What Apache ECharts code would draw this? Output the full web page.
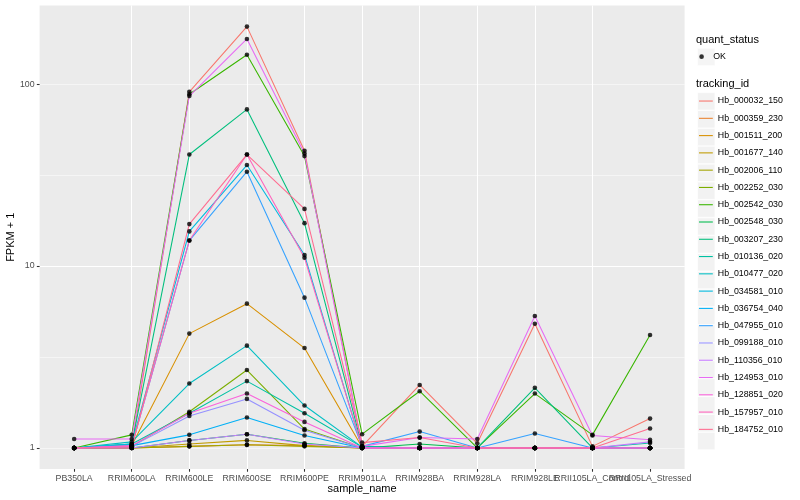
<!DOCTYPE html>
<html><head><meta charset="utf-8">
<script src="https://cdn.jsdelivr.net/npm/echarts@6/dist/echarts.min.js"></script>
<style>html,body{margin:0;padding:0;background:#fff}#c{width:800px;height:500px}</style>
</head><body><div id="c"></div>
<script>
const categories = ['PB350LA','RRIM600LA','RRIM600LE','RRIM600SE','RRIM600PE','RRIM901LA','RRIM928BA','RRIM928LA','RRIM928LE','RRII105LA_Control','RRII105LA_Stressed'];
const trackingIds = ['Hb_000032_150','Hb_000359_230','Hb_001511_200','Hb_001677_140','Hb_002006_110','Hb_002252_030','Hb_002542_030','Hb_002548_030','Hb_003207_230','Hb_010136_020','Hb_010477_020','Hb_034581_010','Hb_036754_040','Hb_047955_010','Hb_099188_010','Hb_110356_010','Hb_124953_010','Hb_128851_020','Hb_157957_010','Hb_184752_010'];
const colors = ['#F8766D','#EA8331','#D89000','#C09B00','#A3A500','#7CAE00','#39B600','#00BB4E','#00BF7D','#00C1A3','#00BFC4','#00BAE0','#00B0F6','#35A2FF','#9590FF','#C77CFF','#E76BF3','#FA62DB','#FF62BC','#FF6C90'];

const hb_000032_150 = [1.0, 1.02, 90.7, 207, 43, 1.02, 2.22, 1.06, 4.82, 1.02, 1.45];
const hb_000359_230 = [1.0, 1.0, 1.02, 1.04, 1.03, 1.0, 1.0, 1.0, 1.0, 1.0, 1.0];
const hb_001511_200 = [1.0, 1.03, 4.25, 6.21, 3.54, 1.01, 1.0, 1.0, 1.0, 1.0, 1.0];
const hb_001677_140 = [1.0, 1.0, 1.05, 1.10, 1.03, 1.0, 1.0, 1.0, 1.0, 1.0, 1.0];
const hb_002006_110 = [1.0, 1.0, 1.02, 1.04, 1.02, 1.0, 1.0, 1.0, 1.0, 1.0, 1.0];
const hb_002252_030 = [1.0, 1.02, 1.58, 2.68, 1.27, 1.0, 1.0, 1.0, 1.0, 1.0, 1.0];
const hb_002542_030 = [1.0, 1.18, 88, 145, 40.2, 1.19, 2.05, 1.0, 1.99, 1.18, 4.18];
const hb_002548_030 = [1.0, 1.0, 1.10, 1.19, 1.06, 1.0, 1.05, 1.0, 1.0, 1.0, 1.0];
const hb_003207_230 = [1.0, 1.05, 41, 72.6, 17.2, 1.02, 1.0, 1.0, 2.14, 1.0, 1.0];
const hb_010136_020 = [1.0, 1.05, 1.55, 2.33, 1.55, 1.01, 1.0, 1.0, 1.0, 1.0, 1.065];
const hb_010477_020 = [1.0, 1.08, 2.26, 3.65, 1.71, 1.01, 1.0, 1.0, 1.0, 1.0, 1.0];
const hb_034581_010 = [1.0, 1.05, 15.5, 35.9, 11.5, 1.0, 1.0, 1.0, 1.0, 1.0, 1.0];
const hb_036754_040 = [1.0, 1.03, 1.18, 1.47, 1.17, 1.0, 1.0, 1.0, 1.0, 1.0, 1.0];
const hb_047955_010 = [1.0, 1.02, 13.8, 33, 6.7, 1.02, 1.23, 1.0, 1.20, 1.0, 1.0];
const hb_099188_010 = [1.0, 1.02, 1.50, 1.86, 1.25, 1.0, 1.0, 1.0, 1.0, 1.0, 1.0];
const hb_110356_010 = [1.0, 1.0, 1.10, 1.19, 1.05, 1.0, 1.0, 1.0, 1.0, 1.0, 1.08];
const hb_124953_010 = [1.12, 1.12, 86, 177, 41.5, 1.02, 1.14, 1.12, 5.31, 1.17, 1.11];
const hb_128851_020 = [1.0, 1.03, 1.55, 1.99, 1.39, 1.0, 1.0, 1.0, 1.0, 1.0, 1.0];
const hb_157957_010 = [1.0, 1.02, 13.8, 41, 11.1, 1.0, 1.0, 1.0, 1.0, 1.0, 1.0];
const hb_184752_010 = [1.0, 1.0, 17.0, 41, 20.6, 1.07, 1.14, 1.0, 1.0, 1.0, 1.28];

const seriesValues = [hb_000032_150, hb_000359_230, hb_001511_200, hb_001677_140, hb_002006_110, hb_002252_030, hb_002542_030, hb_002548_030, hb_003207_230, hb_010136_020, hb_010477_020, hb_034581_010, hb_036754_040, hb_047955_010, hb_099188_010, hb_110356_010, hb_124953_010, hb_128851_020, hb_157957_010, hb_184752_010];
const yTicks = [1, 10, 100];
const xTicks = categories.map((c, i) => i);
// labels split over two axes so that the overlapping last two labels are both kept
const xLabelsMain = xTicks.filter(i => i % 2 === 0);
const xLabelsAlt = xTicks.filter(i => i % 2 === 1);

const FONT = 'Liberation Sans';
const chart = echarts.init(document.getElementById('c'), null, {renderer: 'canvas'});

const lineSeries = trackingIds.map((id, i) => ({
  name: id, type: 'line', xAxisIndex: 0, yAxisIndex: 0,
  data: seriesValues[i].map((v, j) => [j, v]),
  showSymbol: false, symbol: 'none', silent: true,
  itemStyle: {color: colors[i]},
  lineStyle: {color: colors[i], width: 1.07},
  z: 2
}));
const pointData = [];
seriesValues.forEach(arr => arr.forEach((v, j) => pointData.push([j, v])));
const pointSeries = {
  name: 'OK', type: 'scatter', xAxisIndex: 0, yAxisIndex: 0,
  data: pointData, symbol: 'circle', symbolSize: 4.6, silent: true,
  itemStyle: {color: '#000000'}, z: 3
};

const labelStyle = {color: '#4D4D4D', fontSize: 8.8, fontFamily: FONT, margin: 4.95, showMinLabel: true, showMaxLabel: true, hideOverlap: false};
const xFormatter = v => (Number.isInteger(v) && categories[v] !== undefined) ? categories[v] : '';
const legendText = {fontSize: 8.8, color: '#000000', fontFamily: FONT, lineHeight: 17.28};
const option = {
  animation: false,
  backgroundColor: '#ffffff',
  title: [
    {text: 'quant_status', left: 696, top: 34, padding: 0, textStyle: {fontSize: 11, fontWeight: 'normal', color: '#000', fontFamily: FONT}},
    {text: 'tracking_id', left: 696, top: 78, padding: 0, textStyle: {fontSize: 11, fontWeight: 'normal', color: '#000', fontFamily: FONT}}
  ],
  legend: [
    {id: 'okBox', data: ['OK'], orient: 'vertical', left: 697.3, top: 48, padding: 0, icon: 'rect',
     itemWidth: 17.28, itemHeight: 17.28, itemGap: 0, selectedMode: false,
     itemStyle: {color: '#F2F2F2', borderColor: '#ffffff', borderWidth: 0.6}, formatter: () => '', textStyle: {fontSize: 8.8}},
    {id: 'ok', data: ['OK'], orient: 'vertical', left: 699.3, top: 48, padding: 0, icon: 'circle',
     itemWidth: 13.3, itemHeight: 4.6, itemGap: 0, selectedMode: false,
     itemStyle: {color: '#000000', borderWidth: 0}, textStyle: legendText},
    {id: 'tidBox', data: trackingIds, orient: 'vertical', left: 697.3, top: 92.4, padding: 0, icon: 'rect',
     itemWidth: 17.28, itemHeight: 17.28, itemGap: 0, selectedMode: false,
     itemStyle: {color: '#F2F2F2', borderColor: '#ffffff', borderWidth: 0.6}, formatter: () => '', textStyle: {fontSize: 8.8}},
    {id: 'tid', data: trackingIds, orient: 'vertical', left: 699, top: 92.4, padding: 0, icon: 'rect',
     itemWidth: 13.8, itemHeight: 1.07, itemGap: 0, selectedMode: false,
     itemStyle: {borderWidth: 0}, textStyle: legendText}
  ],
  grid: {left: 39.6, right: 115.4, top: 5.5, bottom: 31, show: true, backgroundColor: '#EBEBEB', borderWidth: 0,
         containLabel: false, outerBoundsMode: 'none'},
  xAxis: [{
    type: 'value', min: -0.6, max: 10.6, splitNumber: 11, minInterval: 1, maxInterval: 1, position: 'bottom',
    axisLine: {show: false, onZero: false},
    axisTick: {show: true, length: 2.75, lineStyle: {color: '#333333', width: 1.07}, customValues: xTicks},
    axisLabel: Object.assign({customValues: xLabelsMain, formatter: xFormatter}, labelStyle),
    splitLine: {show: true, showMinLine: false, showMaxLine: false, lineStyle: {color: '#ffffff', width: 1.07}},
    name: 'sample_name', nameLocation: 'middle', nameGap: 14.5, nameMoveOverlap: false,
    nameTextStyle: {fontSize: 11, color: '#000000', fontFamily: FONT}
  }, {
    type: 'value', min: -0.6, max: 10.6, splitNumber: 11, minInterval: 1, maxInterval: 1, position: 'bottom', offset: 0,
    axisLine: {show: false, onZero: false}, axisTick: {show: false}, splitLine: {show: false},
    axisLabel: Object.assign({customValues: xLabelsAlt, formatter: xFormatter}, labelStyle)
  }],
  yAxis: [{
    type: 'log', logBase: 10, min: 0.766, max: 270.4,
    axisLine: {show: false, onZero: false},
    axisTick: {show: true, length: 2.75, lineStyle: {color: '#333333', width: 1.07}, customValues: yTicks},
    axisLabel: {customValues: yTicks, color: '#4D4D4D', fontSize: 8.8, fontFamily: FONT, margin: 4.95, showMinLabel: true, showMaxLabel: true},
    splitLine: {show: true, showMinLine: false, showMaxLine: false, lineStyle: {color: '#ffffff', width: 1.07}},
    name: 'FPKM + 1', nameLocation: 'middle', nameGap: 23, nameMoveOverlap: false,
    nameTextStyle: {fontSize: 11, color: '#000000', fontFamily: FONT},
    z: 1
  }, {
    type: 'value', min: -0.1158, max: 2.432, splitNumber: 5, minInterval: 0.5, maxInterval: 0.5,
    position: 'left', show: true,
    axisLine: {show: false, onZero: false}, axisTick: {show: false}, axisLabel: {show: false},
    splitLine: {show: true, showMinLine: false, showMaxLine: false, lineStyle: {color: '#ffffff', width: 0.53}},
    z: 0
  }],
  series: [...lineSeries, pointSeries]
};
chart.setOption(option);
</script></body></html>
